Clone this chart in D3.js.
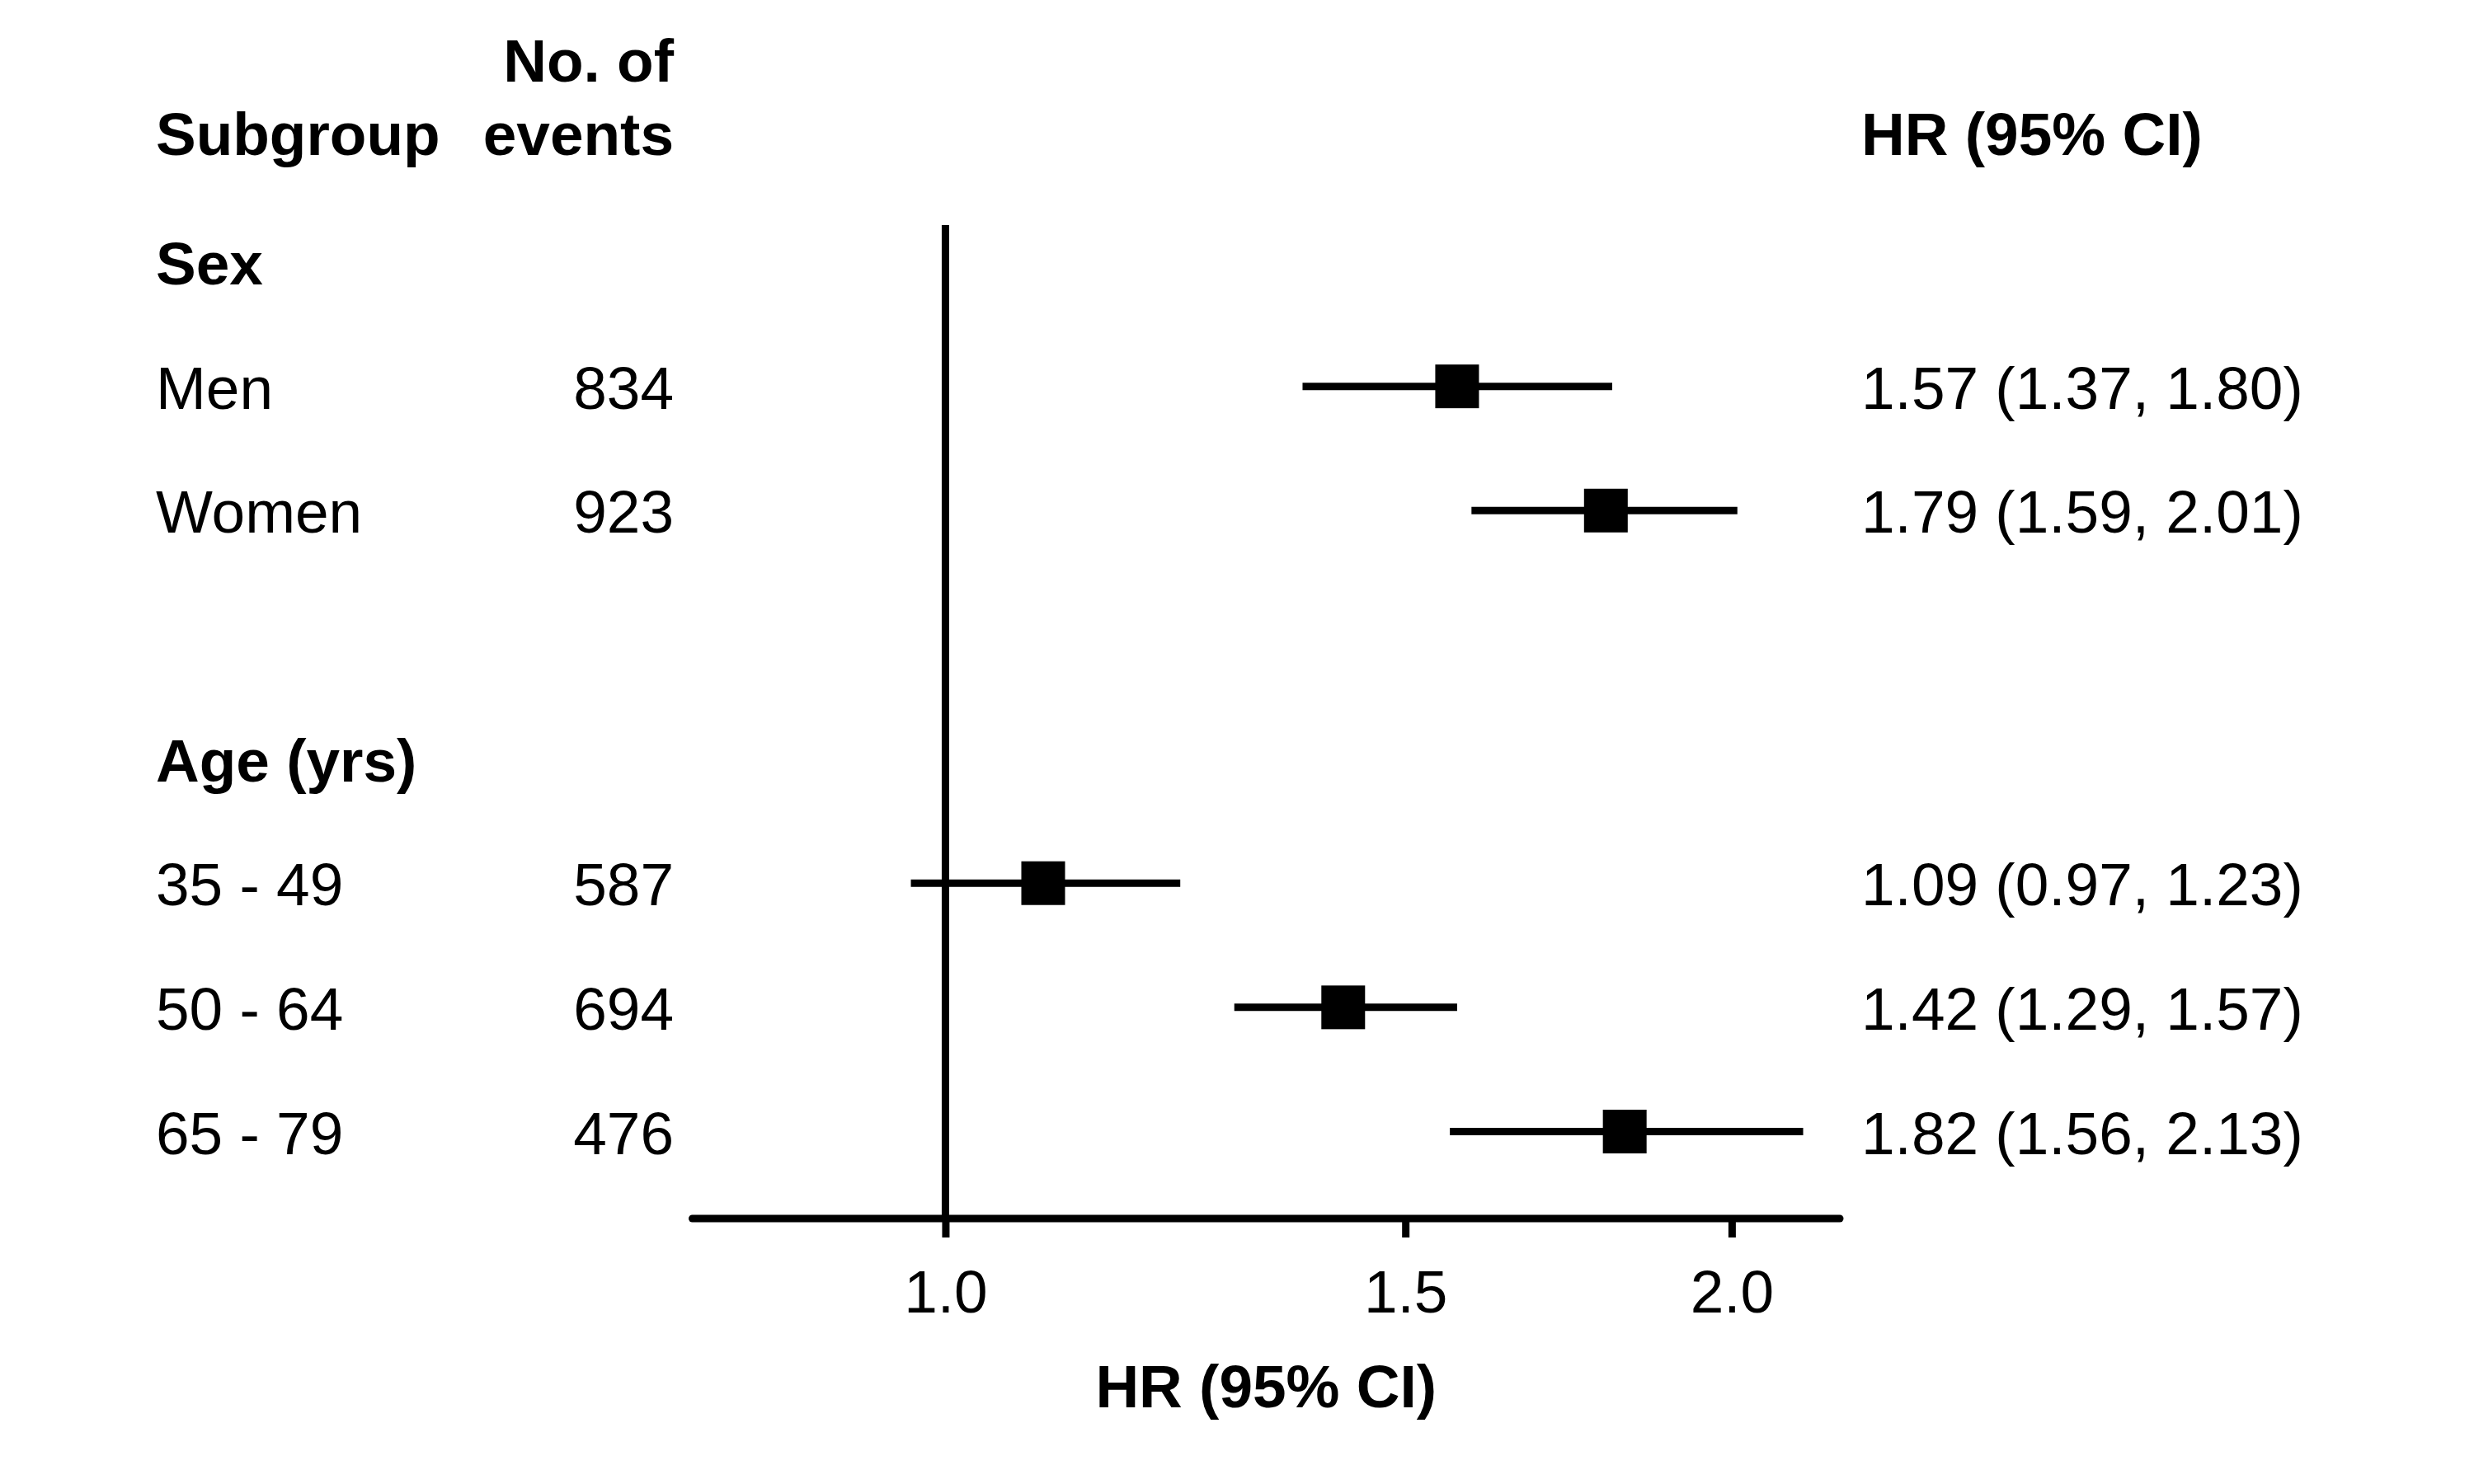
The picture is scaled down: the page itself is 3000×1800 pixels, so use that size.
<!DOCTYPE html>
<html>
<head>
<meta charset="utf-8">
<script src="https://cdn.jsdelivr.net/npm/d3@7"></script>
<style>
  html, body { margin: 0; padding: 0; background: #fff; }
  svg text { font-family: "Liberation Sans", Arial, Helvetica, sans-serif; fill: #000; }
</style>
</head>
<body>
<svg id="chart" width="3000" height="1800"></svg>
<script>
// ---- data ----
const subgroups   = ["Sex", "Men", "Women", "", "Age (yrs)", "35 - 49", "50 - 64", "65 - 79"];
const isGroupHead = [true, false, false, false, true, false, false, false];
const events      = [null, 834, 923, null, null, 587, 694, 476];
const hr          = [null, 1.57, 1.79, null, null, 1.09, 1.42, 1.82];
const ciLow       = [null, 1.37, 1.59, null, null, 0.97, 1.29, 1.56];
const ciHigh      = [null, 1.80, 2.01, null, null, 1.23, 1.57, 2.13];
const tickValues  = [1.0, 1.5, 2.0];
const xDomain     = [0.8, 2.2];
const refValue    = 1.0;

// ---- layout ----
const svg = d3.select("#chart");
const FS = 73;
const baseOff = 27;
const x = d3.scaleLog().domain(xDomain).range([839.5, 2231]);
const y = d3.scaleLinear().domain([0, subgroups.length - 1]).range([318, 1372.5]);
const axisY = 1478;
const colLabelX = 189, colEventsX = 817, colHRX = 2257;

const rows = subgroups.map((s, i) => ({
  label: s, head: isGroupHead[i], n: events[i], hr: hr[i], lo: ciLow[i], hi: ciHigh[i], i
}));

// headers
const hdr = svg.append("g").attr("font-size", FS).attr("font-weight", 700);
hdr.append("text").attr("x", colLabelX).attr("y", 188).text("Subgroup");
hdr.append("text").attr("x", colEventsX).attr("y", 99).attr("text-anchor", "end").text("No. of");
hdr.append("text").attr("x", colEventsX).attr("y", 188).attr("text-anchor", "end").text("events");
hdr.append("text").attr("x", colHRX).attr("y", 188).text("HR (95% CI)");

// reference line
svg.append("line")
  .attr("x1", x(refValue)).attr("x2", x(refValue))
  .attr("y1", 273).attr("y2", axisY)
  .attr("stroke", "#000").attr("stroke-width", 9);

// axis
const axis = d3.axisBottom(x).tickValues(tickValues).tickFormat(d3.format(".1f")).tickSize(23).tickSizeOuter(0);
const gAxis = svg.append("g").attr("transform", `translate(0,${axisY})`).call(axis);
gAxis.select(".domain").remove();
gAxis.selectAll(".tick line").attr("stroke", "#000").attr("stroke-width", 9);
gAxis.selectAll(".tick text")
  .attr("font-size", FS).attr("font-family", null)
  .attr("fill", "#000").attr("y", 114).attr("dy", null);
gAxis.attr("font-size", null).attr("font-family", null);
svg.append("line")
  .attr("x1", x(xDomain[0])).attr("x2", x(xDomain[1]))
  .attr("y1", axisY).attr("y2", axisY)
  .attr("stroke", "#000").attr("stroke-width", 9).attr("stroke-linecap", "round");

svg.append("text")
  .attr("x", (x(xDomain[0]) + x(xDomain[1])) / 2).attr("y", 1707)
  .attr("text-anchor", "middle").attr("font-size", FS).attr("font-weight", 700)
  .text("HR (95% CI)");

// rows
const g = svg.append("g");
g.selectAll("text.label").data(rows.filter(d => d.label)).join("text")
  .attr("class", "label")
  .attr("x", colLabelX).attr("y", d => y(d.i) + baseOff)
  .attr("font-size", FS).attr("font-weight", d => d.head ? 700 : 400)
  .text(d => d.label);

g.selectAll("text.n").data(rows.filter(d => d.n != null)).join("text")
  .attr("class", "n")
  .attr("x", colEventsX).attr("y", d => y(d.i) + baseOff)
  .attr("text-anchor", "end").attr("font-size", FS)
  .text(d => d.n);

const est = rows.filter(d => d.hr != null);
const f2 = d3.format(".2f");
g.selectAll("text.hr").data(est).join("text")
  .attr("class", "hr")
  .attr("x", colHRX).attr("y", d => y(d.i) + baseOff)
  .attr("font-size", FS)
  .text(d => `${f2(d.hr)} (${f2(d.lo)}, ${f2(d.hi)})`);

g.selectAll("line.ci").data(est).join("line")
  .attr("class", "ci")
  .attr("x1", d => x(d.lo)).attr("x2", d => x(d.hi))
  .attr("y1", d => y(d.i)).attr("y2", d => y(d.i))
  .attr("stroke", "#000").attr("stroke-width", 9);

const SQ = 53;
g.selectAll("rect.pt").data(est).join("rect")
  .attr("class", "pt")
  .attr("x", d => x(d.hr) - SQ / 2).attr("y", d => y(d.i) - SQ / 2)
  .attr("width", SQ).attr("height", SQ).attr("fill", "#000");
</script>
</body>
</html>
